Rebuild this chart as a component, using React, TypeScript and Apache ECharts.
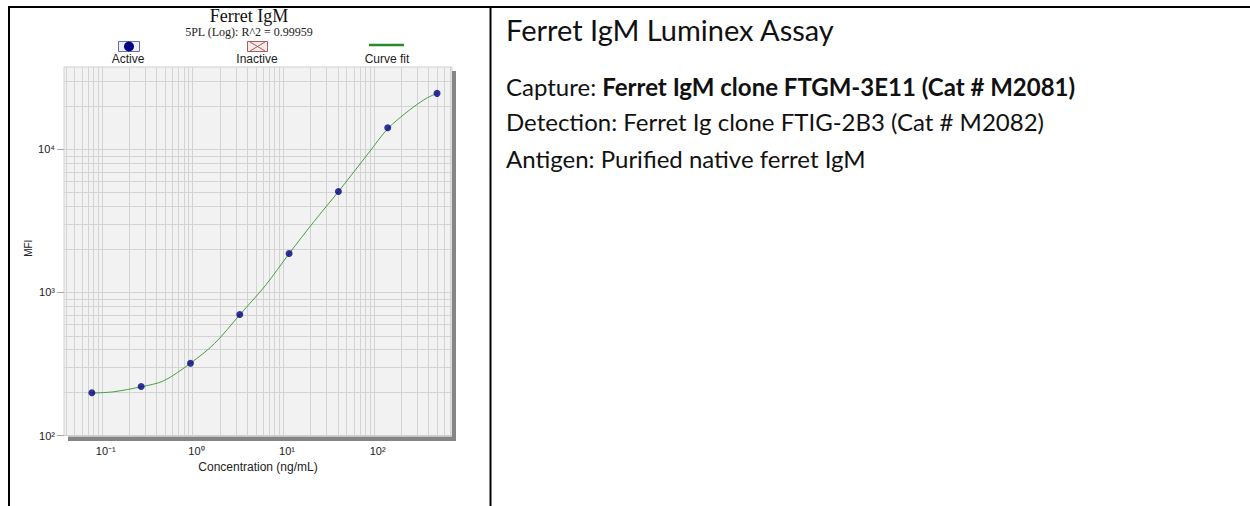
import React, { useEffect, useRef } from 'react';
import * as echarts from 'echarts';

// Standards
const concentrations = [0.0777, 0.272, 0.952, 3.33, 11.66, 40.8, 142.9, 500];
const mfiValues = [199, 220, 320, 701, 1875, 5080, 14160, 24660];

// 5PL curve fit
const curveConc = [0.078, 0.134, 0.272, 0.481, 0.952, 1.75, 3.33, 6.43, 11.66, 22, 40.8, 89.6, 142.9, 248, 380, 500];
const curveMfi = [198, 202, 219, 241, 320, 439, 698, 1125, 1867, 3140, 5070, 9600, 13960, 18840, 22750, 24660];

const xTickValues = [0.1, 1, 10, 100];
const xTickLabels = ['10⁻¹', '10⁰', '10¹', '10²'];
const yTickValues = [100, 1000, 10000];
const yTickLabels = ['10²', '10³', '10⁴'];

const xGridValues = [
  0.04, 0.05, 0.06, 0.07, 0.08, 0.09,
  0.1, 0.2, 0.3, 0.4, 0.5, 0.6, 0.7, 0.8, 0.9,
  1, 2, 3, 4, 5, 6, 7, 8, 9,
  10, 20, 30, 40, 50, 60, 70, 80, 90,
  100, 200, 300, 400, 500, 600, 700,
];
const yGridValues = [
  200, 300, 400, 500, 600, 700, 800, 900,
  1000, 2000, 3000, 4000, 5000, 6000, 7000, 8000, 9000,
  10000, 20000, 30000,
];

const chartTitle = 'Ferret IgM';
const chartSubtitle = '5PL (Log): R^2 = 0.99959';
const legendLabels = ['Active', 'Inactive', 'Curve fit'];
const xAxisName = 'Concentration (ng/mL)';
const yAxisName = 'MFI';

const panelTitle = 'Ferret IgM Luminex Assay';
const captureLabel = 'Capture: ';
const captureText = 'Ferret IgM clone FTGM-3E11 (Cat # M2081)';
const detectionText = 'Detection: Ferret Ig clone FTIG-2B3 (Cat # M2082)';
const antigenText = 'Antigen: Purified native ferret IgM';

const SANS = 'Liberation Sans, Arial, sans-serif';
const SERIF = 'Liberation Serif, Times New Roman, serif';
const BODY = 'Lato, Carlito, sans-serif';

function labelFor(values: number[], labels: string[], v: number) {
  for (let i = 0; i < values.length; i++) {
    if (Math.abs(Math.log10(v) - Math.log10(values[i])) < 0.01) return labels[i];
  }
  return '';
}

export default function App() {
  const ref = useRef<HTMLDivElement>(null);

  useEffect(() => {
    if (!ref.current) return;
    const chart = echarts.init(ref.current, null, { renderer: 'svg' });

    const option: any = {
      animation: false,
      textStyle: { fontFamily: SANS },
      grid: {
        left: 64,
        top: 67,
        right: 798,
        bottom: 70.5,
        show: true,
        backgroundColor: '#f2f2f2',
        borderColor: '#cfcfcf',
        borderWidth: 1,
      },
      xAxis: {
        type: 'log',
        logBase: 10,
        min: 0.0383,
        max: 731,
        axisLine: { show: false },
        axisTick: { show: false },
        splitLine: { show: false },
        minorSplitLine: { show: false },
        axisLabel: {
          customValues: xTickValues,
          formatter: (v: number) => labelFor(xTickValues, xTickLabels, v),
          fontSize: 11,
          color: '#222',
          margin: 10,
          padding: [0, 0, 0, 8],
        },
        name: xAxisName,
        nameLocation: 'middle',
        nameGap: 22,
        nameTextStyle: { fontSize: 12, color: '#222' },
      },
      yAxis: {
        type: 'log',
        logBase: 10,
        min: 100,
        max: 37700,
        axisLine: { show: false },
        axisTick: {
          show: true,
          length: 7,
          customValues: yTickValues,
          lineStyle: { color: '#aaaaaa' },
        },
        splitLine: { show: false },
        axisLabel: {
          customValues: yTickValues,
          formatter: (v: number) => labelFor(yTickValues, yTickLabels, v),
          fontSize: 11,
          color: '#222',
          margin: 9,
        },
        name: yAxisName,
        nameLocation: 'middle',
        nameGap: 31,
        nameTextStyle: { fontSize: 10, color: '#222', padding: [0, 0, 0, 6] },
      },
      series: [
        {
          type: 'custom',
          silent: true,
          z: 1,
          data: xGridValues.map((v) => [v, 1000]),
          renderItem: (params: any, api: any) => {
            const cs = params.coordSys;
            const p = api.coord([api.value(0), 1000]);
            const x = Math.round(p[0]) + 0.5;
            return {
              type: 'line',
              shape: { x1: x, y1: cs.y, x2: x, y2: cs.y + cs.height },
              style: { stroke: '#d3d3d3', lineWidth: 1 },
            };
          },
        },
        {
          type: 'custom',
          silent: true,
          z: 1,
          data: yGridValues.map((v) => [1, v]),
          renderItem: (params: any, api: any) => {
            const cs = params.coordSys;
            const p = api.coord([1, api.value(1)]);
            const y = Math.round(p[1]) + 0.5;
            return {
              type: 'line',
              shape: { x1: cs.x, y1: y, x2: cs.x + cs.width, y2: y },
              style: { stroke: '#d3d3d3', lineWidth: 1 },
            };
          },
        },
        {
          name: 'Curve fit',
          type: 'line',
          z: 3,
          smooth: 0.3,
          showSymbol: false,
          silent: true,
          lineStyle: { color: '#45a045', width: 1 },
          data: curveConc.map((c, i) => [c, curveMfi[i]]),
        },
        {
          name: 'Active',
          type: 'scatter',
          z: 4,
          symbol: 'circle',
          symbolSize: 7,
          itemStyle: { color: '#000080' },
          data: concentrations.map((c, i) => [c, mfiValues[i]]),
        },
      ],
      graphic: [
        // table borders
        { type: 'line', shape: { x1: 8, y1: 7, x2: 1250, y2: 7 }, style: { stroke: '#000', lineWidth: 2 } },
        { type: 'line', shape: { x1: 9, y1: 6, x2: 9, y2: 506 }, style: { stroke: '#000', lineWidth: 2 } },
        { type: 'line', shape: { x1: 490.5, y1: 6, x2: 490.5, y2: 506 }, style: { stroke: '#000', lineWidth: 2 } },
        // plot shadow
        { type: 'rect', shape: { x: 452, y: 71, width: 4, height: 370 }, style: { fill: '#858585' } },
        { type: 'rect', shape: { x: 68, y: 436.5, width: 388, height: 4.5 }, style: { fill: '#858585' } },
        // chart titles
        {
          type: 'text', x: 249, y: 16,
          style: { text: chartTitle, font: `18px ${SERIF}`, fill: '#111', align: 'center', verticalAlign: 'middle' },
        },
        {
          type: 'text', x: 249, y: 32,
          style: { text: chartSubtitle, font: `12px ${SERIF}`, fill: '#222', align: 'center', verticalAlign: 'middle' },
        },
        // legend: Active
        { type: 'rect', shape: { x: 118.5, y: 41.5, width: 21, height: 10 }, style: { fill: '#eeeef8', stroke: '#6a6ac0', lineWidth: 1 } },
        { type: 'circle', shape: { cx: 129, cy: 46.5, r: 5 }, style: { fill: '#000080' } },
        {
          type: 'text', x: 128, y: 59,
          style: { text: legendLabels[0], font: `12px ${SANS}`, fill: '#222', align: 'center', verticalAlign: 'middle' },
        },
        // legend: Inactive
        { type: 'rect', shape: { x: 247.5, y: 41.5, width: 20, height: 10 }, style: { fill: '#f4ecec', stroke: '#b05a5a', lineWidth: 1 } },
        { type: 'line', shape: { x1: 250, y1: 42, x2: 265, y2: 51 }, style: { stroke: '#b05a5a', lineWidth: 1 } },
        { type: 'line', shape: { x1: 250, y1: 51, x2: 265, y2: 42 }, style: { stroke: '#b05a5a', lineWidth: 1 } },
        {
          type: 'text', x: 257, y: 59,
          style: { text: legendLabels[1], font: `12px ${SANS}`, fill: '#222', align: 'center', verticalAlign: 'middle' },
        },
        // legend: Curve fit
        { type: 'line', shape: { x1: 369, y1: 45, x2: 404, y2: 45 }, style: { stroke: '#2a8a2a', lineWidth: 2.5 } },
        {
          type: 'text', x: 387, y: 59,
          style: { text: legendLabels[2], font: `12px ${SANS}`, fill: '#222', align: 'center', verticalAlign: 'middle' },
        },
        // right panel text
        {
          type: 'text', x: 506, y: 29,
          style: { text: panelTitle, font: `29px ${BODY}`, fill: '#111', align: 'left', verticalAlign: 'middle' },
        },
        {
          type: 'text', x: 506, y: 86,
          style: {
            text: captureLabel + '{b|' + captureText + '}',
            fontSize: 24,
            fontFamily: BODY,
            fill: '#111',
            align: 'left',
            verticalAlign: 'middle',
            rich: { b: { fontSize: 24, fontFamily: BODY, fontWeight: 'bold', fill: '#111' } },
          },
        },
        {
          type: 'text', x: 506, y: 121,
          style: { text: detectionText, font: `24px ${BODY}`, fill: '#111', align: 'left', verticalAlign: 'middle' },
        },
        {
          type: 'text', x: 506, y: 158,
          style: { text: antigenText, font: `24px ${BODY}`, fill: '#111', align: 'left', verticalAlign: 'middle' },
        },
      ],
    };

    chart.setOption(option);
    return () => chart.dispose();
  }, []);

  return (
    <div
      ref={ref}
      style={{ position: 'absolute', left: 0, top: 0, width: 1250, height: 506, background: '#fff' }}
    />
  );
}
